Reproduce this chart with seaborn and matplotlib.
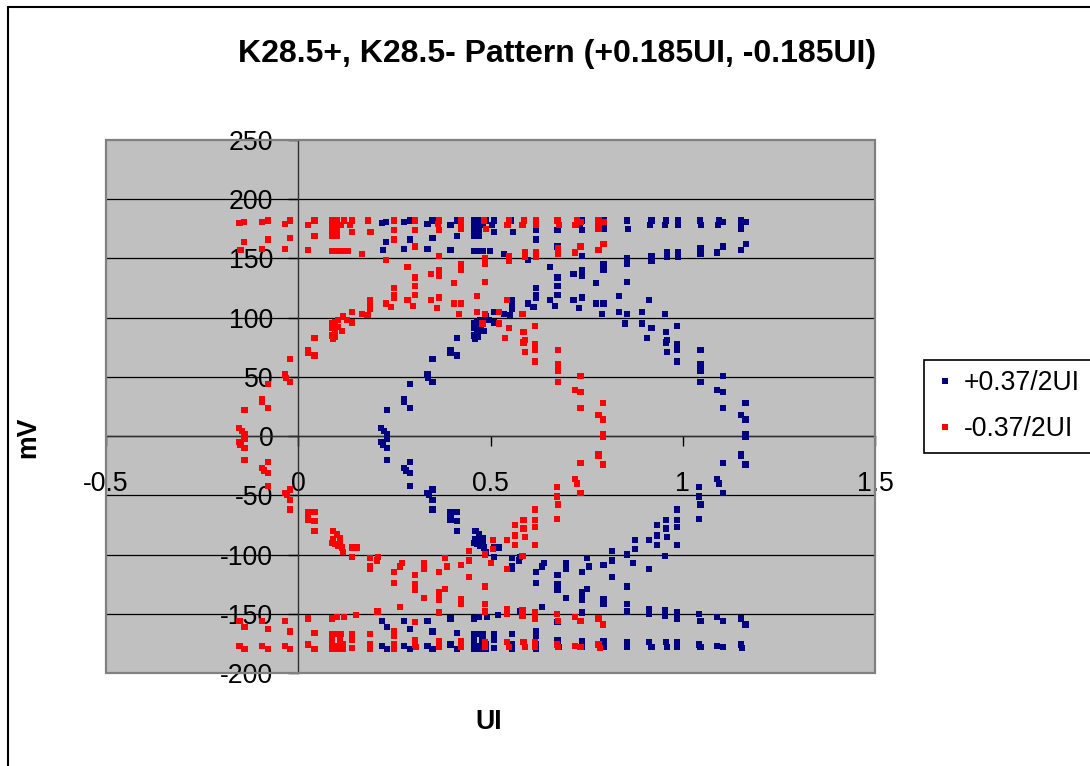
import matplotlib
matplotlib.use('Agg')
import matplotlib.pyplot as plt
from matplotlib.patches import Rectangle
import pandas as pd
import seaborn as sns

# --- chart text ---
TITLE = 'K28.5+, K28.5- Pattern (+0.185UI, -0.185UI)'
SERIES = ['+0.37/2UI', '-0.37/2UI']
COLORS = ['#000080', '#FF0000']
X_TICKS = [-0.5, 0, 0.5, 1, 1.5]
X_TICK_LABELS = ['-0.5', '0', '0.5', '1', '1.5']
Y_TICKS = [-200, -150, -100, -50, 0, 50, 100, 150, 200, 250]

# --- data (UI, mV) ---
# -0.37/2UI series (red)
minus_ui = [
    # upper left
    -0.153, -0.141, -0.095, -0.079, -0.034, -0.021, 0.026, 0.042, 0.088, 0.100,
    0.088, 0.100, 0.110, 0.088, 0.100, 0.088, 0.100, 0.118, 0.139, 0.134,
    0.139, 0.182, 0.188, 0.248, 0.248, 0.248, 0.304, 0.304, 0.304, -0.141,
    -0.150, -0.079, -0.095, -0.021, -0.034, 0.042, 0.026, 0.088, 0.100, 0.110,
    0.128, 0.165, 0.228, 0.284, 0.304, 0.304, 0.304, 0.284, 0.298, 0.248,
    0.248, 0.248, 0.228, 0.242, 0.186, 0.186, 0.186, 0.180, 0.165, 0.139,
    0.139, 0.126, 0.117, 0.088, 0.096, 0.104, 0.088, 0.096, 0.104, 0.113,
    0.088, 0.096, 0.090, 0.042, 0.026, 0.026, 0.042, -0.021,
    # upper middle
    0.367, 0.367, 0.363, 0.424, 0.424, 0.424, 0.484, 0.488, 0.549, 0.544,
    0.587, 0.583, 0.618, 0.618, 0.674, 0.678, 0.725, 0.734, 0.721, 0.781,
    0.781, 0.367, 0.367, 0.367, 0.346, 0.424, 0.424, 0.486, 0.486, 0.549,
    0.549, 0.590, 0.590, 0.618, 0.618, 0.676, 0.676, 0.734, 0.719, 0.781,
    0.405, 0.486, 0.367, 0.346, 0.361, 0.405, 0.424, 0.419, 0.465, 0.465,
    0.486, 0.479, 0.523, 0.523, 0.543, 0.583, 0.549, 0.538, 0.586, 0.590,
    0.586, 0.590, 0.616, 0.616, 0.616, 0.616, 0.676, 0.676, 0.781, 0.794,
    0.794,
    # left crossing
    -0.034, -0.032, -0.021, -0.079, -0.094, -0.094, -0.079, -0.140, -0.154, -0.146,
    -0.140, -0.140, -0.154, -0.150, -0.140, -0.140, -0.079, -0.094, -0.090, -0.079,
    -0.079, -0.034, -0.029, -0.021, -0.021, -0.021, 0.026, 0.042,
    # right crossing
    0.676, 0.676, 0.676, 0.734, 0.719, 0.734, 0.734, 0.793, 0.781, 0.793,
    0.793, 0.793, 0.734, 0.781, 0.781, 0.793, 0.719, 0.725, 0.672, 0.672,
    0.676, 0.734, 0.616,
    # lower left
    0.026, 0.026, 0.042, 0.042, 0.091, 0.100, 0.109, 0.088, 0.096, 0.104,
    0.113, 0.091, 0.117, 0.109, 0.139, 0.152, 0.139, 0.186, 0.186, 0.186,
    0.204, 0.207, 0.249, 0.249, 0.264, 0.270, 0.304, 0.304, 0.304, 0.327,
    0.264, 0.206, 0.150, 0.088, 0.100, 0.120, 0.026, -0.153, -0.140, -0.094,
    -0.079, -0.034, -0.021, 0.042, 0.088, 0.088, 0.100, 0.111, 0.088, 0.096,
    0.109, 0.117, 0.088, 0.100, 0.117, 0.109, 0.139, 0.139, 0.139, 0.186,
    0.186, 0.186, 0.249, 0.249, 0.249, 0.249, 0.304, 0.304, 0.304, -0.153,
    -0.140, -0.094, -0.079, -0.034, -0.021, 0.026, 0.042,
    # lower middle
    0.676, 0.672, 0.616, 0.616, 0.586, 0.586, 0.564, 0.564, 0.590, 0.564,
    0.616, 0.543, 0.583, 0.506, 0.506, 0.445, 0.486, 0.501, 0.543, 0.382,
    0.386, 0.424, 0.327, 0.327, 0.367, 0.445, 0.445, 0.486, 0.382, 0.367,
    0.367, 0.424, 0.424, 0.486, 0.486, 0.367, 0.543, 0.543, 0.583, 0.583,
    0.616, 0.616, 0.672, 0.676, 0.719, 0.734, 0.781, 0.793, 0.307, 0.367,
    0.367, 0.424, 0.424, 0.486, 0.486, 0.543, 0.549, 0.586, 0.590, 0.616,
    0.616, 0.672, 0.676, 0.719, 0.734, 0.781, 0.785,
]
minus_mv = [
    180, 181, 181, 182, 179, 182, 178, 182, 182, 182,
    178, 177, 178, 174, 174, 169, 169, 182, 182, 178,
    172, 182, 172, 182, 174, 166, 182, 174, 160, 164,
    157, 166, 158, 167, 158, 169, 157, 156, 156, 156,
    156, 154, 149, 143, 134, 127, 119, 115, 110, 125,
    119, 117, 112, 109, 115, 112, 107, 102, 103, 105,
    96, 98, 101, 95, 96, 98, 91, 89, 92, 89,
    85, 84, 82, 83, 73, 70, 68, 65,
    182, 174, 179, 182, 178, 175, 182, 175, 182, 178,
    182, 178, 182, 178, 182, 178, 182, 181, 178, 182,
    175, 152, 140, 135, 137, 145, 140, 150, 145, 152,
    148, 155, 151, 155, 151, 159, 154, 160, 155, 157,
    129, 130, 117, 115, 108, 112, 112, 103, 118, 105,
    103, 95, 105, 95, 115, 103, 91, 83, 88, 81,
    79, 71, 93, 78, 73, 63, 73, 61, 178, 181,
    162,
    52, 49, 46, 44, 31, 29, 24, 22, 7, 4,
    2, -2, -5, -7, -10, -20, -22, -27, -29, -31,
    -42, -48, -50, -45, -54, -62, -64, -64,
    59, 55, 46, 51, 39, 37, 24, 28, 18, 14,
    2, -1, -23, -15, -17, -24, -36, -40, -43, -51,
    -57, -48, -62,
    -68, -71, -72, -80, -80, -83, -86, -90, -91, -93,
    -94, -87, -98, -90, -94, -94, -102, -103, -110, -112,
    -105, -102, -115, -124, -110, -107, -117, -125, -130, -137,
    -144, -148, -151, -154, -153, -153, -154, -156, -161, -156,
    -163, -156, -165, -166, -167, -170, -167, -167, -176, -177,
    -176, -176, -180, -180, -180, -172, -167, -172, -179, -167,
    -176, -180, -165, -169, -176, -180, -157, -172, -176, -177,
    -180, -177, -180, -177, -180, -176, -180,
    -58, -70, -71, -77, -71, -78, -75, -84, -85, -92,
    -92, -88, -101, -88, -95, -97, -100, -107, -112, -103,
    -110, -109, -107, -112, -115, -105, -119, -127, -129, -132,
    -138, -138, -142, -142, -148, -149, -146, -150, -147, -152,
    -149, -154, -150, -156, -153, -156, -154, -159, -178, -173,
    -178, -173, -178, -174, -178, -174, -178, -174, -178, -174,
    -178, -176, -178, -177, -178, -176, -179,
]

# +0.37/2UI series (blue)
plus_ui = [
    0.217, 0.229, 0.275, 0.291, 0.336, 0.349, 0.396, 0.412, 0.458, 0.470,
    0.458, 0.470, 0.480, 0.458, 0.470, 0.458, 0.470, 0.488, 0.509, 0.504,
    0.509, 0.552, 0.558, 0.618, 0.618, 0.618, 0.674, 0.674, 0.674, 0.229,
    0.220, 0.291, 0.275, 0.349, 0.336, 0.412, 0.396, 0.458, 0.470, 0.480,
    0.498, 0.535, 0.598, 0.654, 0.674, 0.674, 0.674, 0.654, 0.668, 0.618,
    0.618, 0.618, 0.598, 0.612, 0.556, 0.556, 0.556, 0.550, 0.535, 0.509,
    0.509, 0.496, 0.487, 0.458, 0.466, 0.474, 0.458, 0.466, 0.474, 0.483,
    0.458, 0.466, 0.460, 0.412, 0.396, 0.396, 0.412, 0.349,
    0.737, 0.737, 0.733, 0.794, 0.794, 0.794, 0.854, 0.858, 0.919, 0.914,
    0.957, 0.953, 0.988, 0.988, 1.044, 1.048, 1.095, 1.104, 1.091, 1.151,
    1.151, 0.737, 0.737, 0.737, 0.716, 0.794, 0.794, 0.856, 0.856, 0.919,
    0.919, 0.960, 0.960, 0.988, 0.988, 1.046, 1.046, 1.104, 1.089, 1.151,
    0.775, 0.856, 0.737, 0.716, 0.731, 0.775, 0.794, 0.789, 0.835, 0.835,
    0.856, 0.849, 0.893, 0.893, 0.913, 0.953, 0.919, 0.908, 0.956, 0.960,
    0.956, 0.960, 0.986, 0.986, 0.986, 0.986, 1.046, 1.046, 1.151, 1.164,
    1.164,
    0.336, 0.338, 0.349, 0.291, 0.276, 0.276, 0.291, 0.230, 0.216, 0.224,
    0.230, 0.230, 0.216, 0.220, 0.230, 0.230, 0.291, 0.276, 0.280, 0.291,
    0.291, 0.336, 0.341, 0.349, 0.349, 0.349, 0.396, 0.412,
    1.046, 1.046, 1.046, 1.104, 1.089, 1.104, 1.104, 1.163, 1.151, 1.163,
    1.163, 1.163, 1.104, 1.151, 1.151, 1.163, 1.089, 1.095, 1.042, 1.042,
    1.046, 1.104, 0.986,
    0.396, 0.396, 0.412, 0.412, 0.461, 0.470, 0.479, 0.458, 0.466, 0.474,
    0.483, 0.461, 0.487, 0.479, 0.509, 0.522, 0.509, 0.556, 0.556, 0.556,
    0.574, 0.577, 0.619, 0.619, 0.634, 0.640, 0.674, 0.674, 0.674, 0.697,
    0.634, 0.576, 0.520, 0.458, 0.470, 0.490, 0.396, 0.217, 0.230, 0.276,
    0.291, 0.336, 0.349, 0.412, 0.458, 0.458, 0.470, 0.481, 0.458, 0.466,
    0.479, 0.487, 0.458, 0.470, 0.487, 0.479, 0.509, 0.509, 0.509, 0.556,
    0.556, 0.556, 0.619, 0.619, 0.619, 0.619, 0.674, 0.674, 0.674, 0.217,
    0.230, 0.276, 0.291, 0.336, 0.349, 0.396, 0.412,
    1.046, 1.042, 0.986, 0.986, 0.956, 0.956, 0.934, 0.934, 0.960, 0.934,
    0.986, 0.913, 0.953, 0.876, 0.876, 0.815, 0.856, 0.871, 0.913, 0.752,
    0.756, 0.794, 0.697, 0.697, 0.737, 0.815, 0.815, 0.856, 0.752, 0.737,
    0.737, 0.794, 0.794, 0.856, 0.856, 0.737, 0.913, 0.913, 0.953, 0.953,
    0.986, 0.986, 1.042, 1.046, 1.089, 1.104, 1.151, 1.163, 0.677, 0.737,
    0.737, 0.794, 0.794, 0.856, 0.856, 0.913, 0.919, 0.956, 0.960, 0.986,
    0.986, 1.042, 1.046, 1.089, 1.104, 1.151, 1.155,
]
plus_mv = [
    180, 181, 181, 182, 179, 182, 178, 182, 182, 182,
    178, 177, 178, 174, 174, 169, 169, 182, 182, 178,
    172, 182, 172, 182, 174, 166, 182, 174, 160, 164,
    157, 166, 158, 167, 158, 169, 157, 156, 156, 156,
    156, 154, 149, 143, 134, 127, 119, 115, 110, 125,
    119, 117, 112, 109, 115, 112, 107, 102, 103, 105,
    96, 98, 101, 95, 96, 98, 91, 89, 92, 89,
    85, 84, 82, 83, 73, 70, 68, 65,
    182, 174, 179, 182, 178, 175, 182, 175, 182, 178,
    182, 178, 182, 178, 182, 178, 182, 181, 178, 182,
    175, 152, 140, 135, 137, 145, 140, 150, 145, 152,
    148, 155, 151, 155, 151, 159, 154, 160, 155, 157,
    129, 130, 117, 115, 108, 112, 112, 103, 118, 105,
    103, 95, 105, 95, 115, 103, 91, 83, 88, 81,
    79, 71, 93, 78, 73, 63, 73, 61, 178, 181,
    162,
    52, 49, 46, 44, 31, 29, 24, 22, 7, 4,
    2, -2, -5, -7, -10, -20, -22, -27, -29, -31,
    -42, -48, -50, -45, -54, -62, -64, -64,
    59, 55, 46, 51, 39, 37, 24, 28, 18, 14,
    2, -1, -23, -15, -17, -24, -36, -40, -43, -51,
    -57, -48, -62,
    -68, -71, -72, -80, -80, -83, -86, -90, -91, -93,
    -94, -87, -98, -90, -94, -94, -102, -103, -110, -112,
    -105, -102, -115, -124, -110, -107, -117, -125, -130, -137,
    -144, -148, -151, -154, -153, -153, -154, -156, -161, -156,
    -163, -156, -165, -166, -167, -170, -167, -167, -176, -177,
    -176, -176, -180, -180, -180, -172, -167, -172, -179, -167,
    -176, -180, -165, -169, -176, -180, -157, -172, -176, -177,
    -180, -177, -180, -177, -180, -176, -180,
    -58, -70, -71, -77, -71, -78, -75, -84, -85, -92,
    -92, -88, -101, -88, -95, -97, -100, -107, -112, -103,
    -110, -109, -107, -112, -115, -105, -119, -127, -129, -132,
    -138, -138, -142, -142, -148, -149, -146, -150, -147, -152,
    -149, -154, -150, -156, -153, -156, -154, -159, -178, -173,
    -178, -173, -178, -174, -178, -174, -178, -174, -178, -174,
    -178, -176, -178, -177, -178, -176, -179,
]

# blue first, red drawn on top
df = pd.concat([
    pd.DataFrame({'UI': plus_ui, 'mV': plus_mv, 'series': SERIES[0]}),
    pd.DataFrame({'UI': minus_ui, 'mV': minus_mv, 'series': SERIES[1]}),
], ignore_index=True)

sns.set_theme(style='white')
plt.rcParams['font.family'] = ['Liberation Sans', 'DejaVu Sans']
plt.rcParams['axes.unicode_minus'] = False
plt.rcParams['text.color'] = 'black'
plt.rcParams['xtick.color'] = 'black'
plt.rcParams['ytick.color'] = 'black'

W, H = 1090, 766
fig = plt.figure(figsize=(W / 100, H / 100), dpi=100)
fig.patch.set_facecolor('white')

# plot area in pixel terms
left, right, top, bottom = 106, 875, 140, 673
ax = fig.add_axes([left / W, 1 - bottom / H, (right - left) / W, (bottom - top) / H])
ax.set_facecolor('#C0C0C0')

sns.scatterplot(data=df, x='UI', y='mV', hue='series', hue_order=SERIES,
                palette=COLORS, marker='s', s=20, linewidth=0, ax=ax, zorder=3)

ax.set_xlim(-0.5, 1.5)
ax.set_ylim(-200, 250)
ax.set_xticks(X_TICKS, X_TICK_LABELS)
ax.set_yticks(Y_TICKS)
ax.set_xlabel('')
ax.set_ylabel('')

ax.grid(False)
for yv in Y_TICKS[1:-1]:
    ax.axhline(yv, color='black', lw=0.9, zorder=1)

# axes cross at zero like Excel
for s in ['top', 'right']:
    ax.spines[s].set_visible(False)
ax.spines['left'].set_position(('data', 0))
ax.spines['bottom'].set_position(('data', 0))
ax.spines['left'].set_color('#303030')
ax.spines['bottom'].set_color('#303030')
ax.spines['left'].set_linewidth(1.0)
ax.spines['bottom'].set_linewidth(1.0)
ax.add_patch(Rectangle((0, 0), 1, 1, transform=ax.transAxes, fill=False,
                       edgecolor='#808080', lw=1.6, clip_on=False, zorder=4))

ax.tick_params(axis='y', direction='out', length=7, width=1, pad=11,
               labelsize=19.2, colors='black', left=True)
ax.tick_params(axis='x', direction='out', length=7, width=1, pad=18,
               labelsize=19.2, colors='black', bottom=True)

# legend
old = ax.get_legend()
handles = old.legend_handles
labels = [t.get_text() for t in old.get_texts()]
old.remove()
leg = ax.legend(handles, labels, loc='center left',
                bbox_to_anchor=(924 / W, 1 - 406.5 / H), bbox_transform=fig.transFigure,
                frameon=True, fancybox=False, edgecolor='black', framealpha=1,
                fontsize=19.2, borderpad=0.4, handlelength=0.8, handletextpad=0.3,
                labelspacing=0.75, markerscale=0.85, borderaxespad=0)
leg.get_frame().set_linewidth(1.2)
for t in leg.get_texts():
    t.set_color('black')

# titles
fig.text(557.5 / W, 1 - 54 / H, TITLE, ha='center', va='center',
         fontsize=23, fontweight='bold', color='black')
fig.text(28 / W, 1 - 437 / H, 'mV', rotation=90, ha='center', va='center',
         fontsize=19.2, fontweight='bold', color='black')
fig.text(489 / W, 1 - 722 / H, 'UI', ha='center', va='center',
         fontsize=19.2, fontweight='bold', color='black')

# chart area border (only left/top edges fall inside the image)
fig.add_artist(Rectangle((8 / W, -0.1), 1.2, 1 - 7 / H + 0.1, transform=fig.transFigure,
                         fill=False, edgecolor='black', lw=1.5))

fig.savefig('out.png', dpi=100, facecolor='white')
